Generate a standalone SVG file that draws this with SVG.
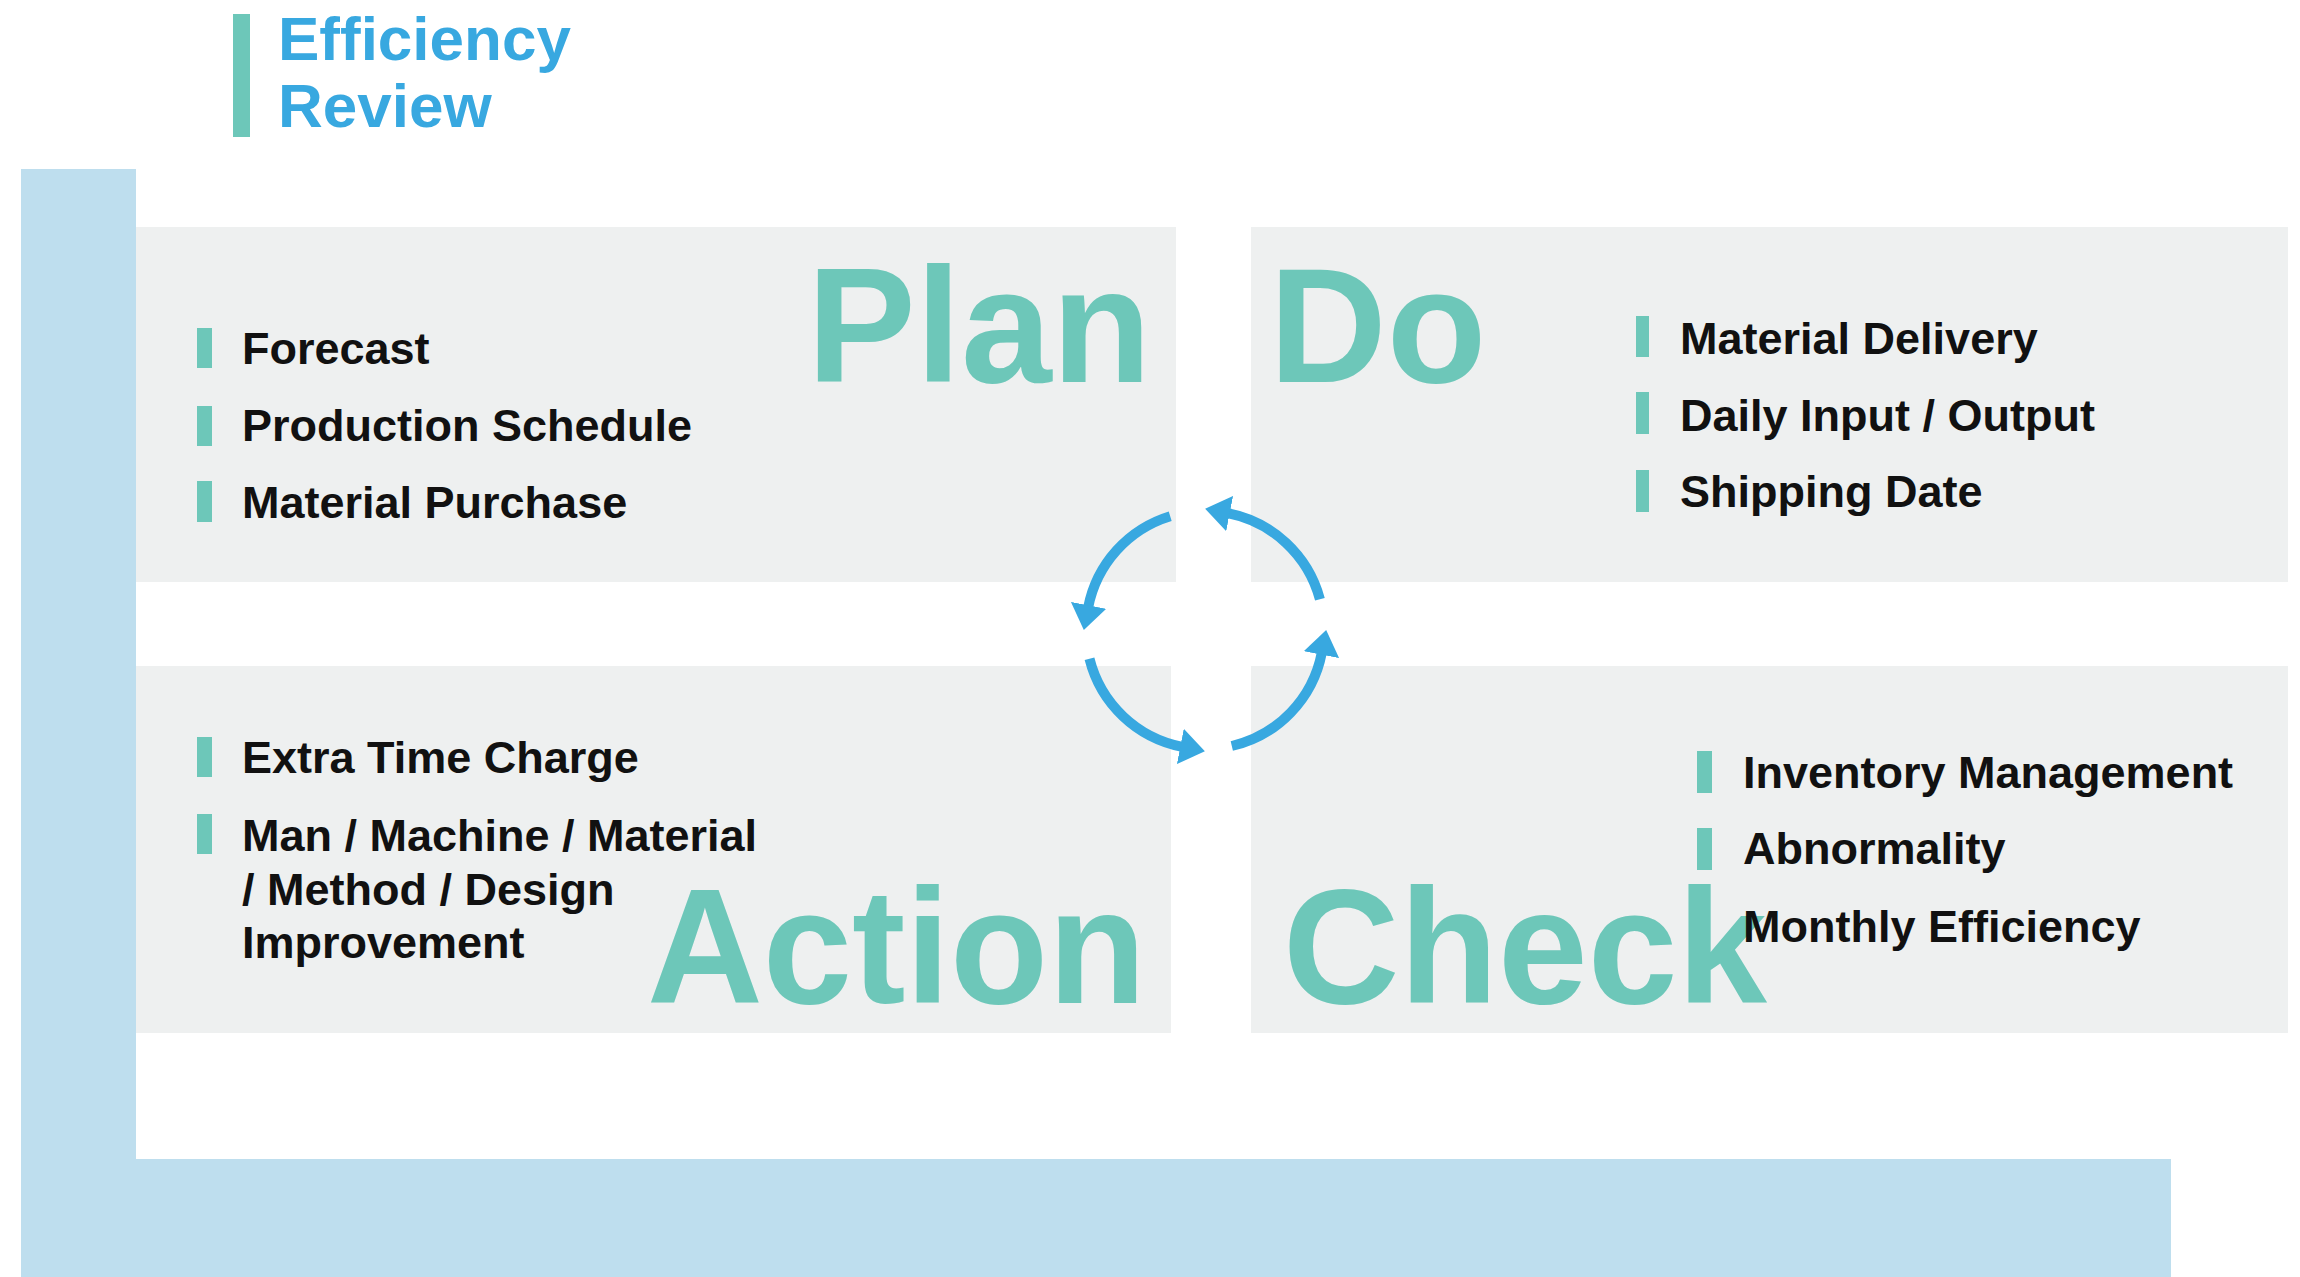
<svg xmlns="http://www.w3.org/2000/svg" width="2300" height="1277" viewBox="0 0 2300 1277">
<style>
.panel{fill:#EEF0F0}
.band{fill:#BEDEEE}
.bullet{fill:#6DC7B9}
.item{font-family:"Liberation Sans",Arial,sans-serif;font-weight:bold;font-size:45px;fill:#111111}
.big{font-family:"Liberation Sans",Arial,sans-serif;font-weight:bold;font-size:163px;fill:#6DC7B9}
.title{font-family:"Liberation Sans",Arial,sans-serif;font-weight:bold;font-size:62px;fill:#38A8E0}
.cyc{fill:none;stroke:#38A8E0;stroke-width:10;marker-end:url(#ah)}
</style>
<defs>
<marker id="ah" markerUnits="userSpaceOnUse" markerWidth="25" markerHeight="36" viewBox="0 0 25 36" refX="2" refY="18" orient="auto">
<path d="M0,0 L25,18 L0,36 Z" fill="#38A8E0"/>
</marker>
</defs>
<rect width="2300" height="1277" fill="#FFFFFF"/>
<g id="title">
<rect x="233" y="14" width="17" height="123" class="bullet"/>
<text class="title" x="278" y="60">Efficiency</text>
<text class="title" x="278" y="127">Review</text>
</g>
<g id="frame">
<rect x="21" y="169" width="115" height="1108" class="band"/>
<rect x="21" y="1159" width="2150" height="118" class="band"/>
</g>
<g id="plan">
<rect x="136" y="227" width="1040" height="355" class="panel"/>
<text class="big" x="807" y="382">Plan</text>
<rect x="197" y="328" width="15" height="40" class="bullet"/>
<text class="item" x="242" y="364">Forecast</text>
<rect x="197" y="406" width="15" height="40" class="bullet"/>
<text class="item" x="242" y="441">Production Schedule</text>
<rect x="197" y="481" width="15" height="41" class="bullet"/>
<text class="item" x="242" y="518">Material Purchase</text>
</g>
<g id="do">
<rect x="1251" y="227" width="1037" height="355" class="panel"/>
<text class="big" x="1269" y="382">Do</text>
<rect x="1636" y="316" width="13" height="41" class="bullet"/>
<text class="item" x="1680" y="354">Material Delivery</text>
<rect x="1636" y="392" width="13" height="42" class="bullet"/>
<text class="item" x="1680" y="431">Daily Input / Output</text>
<rect x="1636" y="470" width="13" height="42" class="bullet"/>
<text class="item" x="1680" y="507">Shipping Date</text>
</g>
<g id="action">
<rect x="136" y="666" width="1035" height="367" class="panel"/>
<text class="big" x="647" y="1003" textLength="499" lengthAdjust="spacingAndGlyphs">Action</text>
<rect x="197" y="737" width="15" height="40" class="bullet"/>
<text class="item" x="242" y="773">Extra Time Charge</text>
<rect x="197" y="814" width="15" height="40" class="bullet"/>
<text class="item" x="242" y="851">Man / Machine / Material</text>
<text class="item" x="242" y="905">/ Method / Design</text>
<text class="item" x="242" y="958">Improvement</text>
</g>
<g id="check">
<rect x="1251" y="666" width="1037" height="367" class="panel"/>
<rect x="1697" y="751" width="15" height="42" class="bullet"/>
<text class="item" x="1743" y="788">Inventory Management</text>
<rect x="1697" y="828" width="15" height="42" class="bullet"/>
<text class="item" x="1743" y="864">Abnormality</text>
<text class="big" x="1283" y="1003" textLength="484" lengthAdjust="spacingAndGlyphs">Check</text>
<text class="item" x="1743" y="942">Monthly Efficiency</text>
</g>
<g id="connectors">
<path class="cyc" d="M1170.2,516.2 A119,119 0 0 0 1088.2,607.3"/>
<path class="cyc" d="M1089.5,658.8 A119,119 0 0 0 1182.3,746.8"/>
<path class="cyc" d="M1231.8,746.0 A119,119 0 0 0 1321.8,652.7"/>
<path class="cyc" d="M1319.9,599.2 A119,119 0 0 0 1227.7,513.2"/>
</g>
</svg>
